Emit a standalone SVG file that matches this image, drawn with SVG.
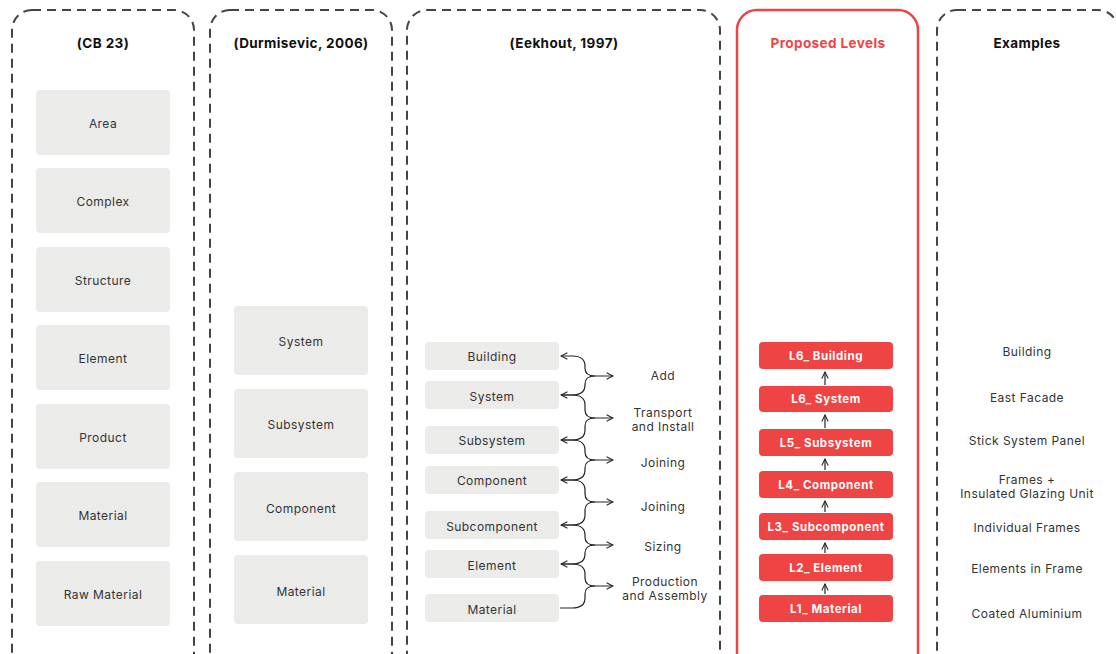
<svg xmlns="http://www.w3.org/2000/svg" width="1116" height="654" viewBox="0 0 1116 654">
<defs>
<style>
.col{fill:none;stroke:#444;stroke-width:2;stroke-dasharray:9 6}
.red{fill:none;stroke:#ef4444;stroke-width:2.5}
.box{fill:#ebebe9}
.rbox{fill:#ef4444}
text{font-family:Inter,"Noto Sans",sans-serif;text-anchor:middle;dominant-baseline:central}
.h{font-size:13.5px;font-weight:700;fill:#111;letter-spacing:0.4px}
.t{font-size:12px;fill:#333;letter-spacing:0.45px}
.w{font-size:11.5px;font-weight:700;fill:#fff;letter-spacing:0.55px}
.ln{fill:none;stroke:#222;stroke-width:1.2}
</style>
<marker id="ah" viewBox="0 0 10 10" refX="9" refY="5" markerWidth="8" markerHeight="8" markerUnits="userSpaceOnUse" orient="auto-start-reverse">
<path d="M1,1 L9,5 L1,9" fill="none" stroke="#222" stroke-width="1.3"/>
</marker>
</defs>
<rect width="1116" height="654" fill="#fff"/>

<g id="col-cb23">
<rect class="col" x="12" y="10" width="182" height="680" rx="20"/>
<text class="h" x="103" y="43">(CB 23)</text>
</g>
<g id="col-durmisevic">
<rect class="col" x="210" y="10" width="182" height="680" rx="20"/>
<text class="h" x="301" y="43">(Durmisevic, 2006)</text>
</g>
<g id="col-eekhout">
<rect class="col" x="407" y="10" width="313" height="680" rx="20"/>
<text class="h" x="564" y="43">(Eekhout, 1997)</text>
</g>
<g id="col-proposed">
<rect class="red" x="737" y="10" width="181" height="680" rx="20"/>
<text class="h" x="828" y="43" style="fill:#ef4444">Proposed Levels</text>
</g>
<g id="col-examples">
<rect class="col" x="937" y="10" width="181" height="680" rx="20"/>
<text class="h" x="1027" y="43">Examples</text>
</g>

<g id="cb-area"><rect class="box" x="36" y="90" width="134" height="65" rx="4"/><text class="t" x="103" y="123">Area</text></g>
<g id="cb-complex"><rect class="box" x="36" y="168" width="134" height="65" rx="4"/><text class="t" x="103" y="201">Complex</text></g>
<g id="cb-structure"><rect class="box" x="36" y="247" width="134" height="65" rx="4"/><text class="t" x="103" y="280">Structure</text></g>
<g id="cb-element"><rect class="box" x="36" y="325" width="134" height="65" rx="4"/><text class="t" x="103" y="358">Element</text></g>
<g id="cb-product"><rect class="box" x="36" y="404" width="134" height="65" rx="4"/><text class="t" x="103" y="437">Product</text></g>
<g id="cb-material"><rect class="box" x="36" y="482" width="134" height="65" rx="4"/><text class="t" x="103" y="515">Material</text></g>
<g id="cb-raw"><rect class="box" x="36" y="561" width="134" height="65" rx="4"/><text class="t" x="103" y="594">Raw Material</text></g>

<g id="du-system"><rect class="box" x="234" y="306" width="134" height="69" rx="4"/><text class="t" x="301" y="341">System</text></g>
<g id="du-subsystem"><rect class="box" x="234" y="389" width="134" height="69" rx="4"/><text class="t" x="301" y="424">Subsystem</text></g>
<g id="du-component"><rect class="box" x="234" y="472" width="134" height="69" rx="4"/><text class="t" x="301" y="508">Component</text></g>
<g id="du-material"><rect class="box" x="234" y="555" width="134" height="69" rx="4"/><text class="t" x="301" y="591">Material</text></g>

<g id="ek-building"><rect class="box" x="425" y="342" width="134" height="28" rx="4"/><text class="t" x="492" y="356">Building</text></g>
<g id="ek-system"><rect class="box" x="425" y="381" width="134" height="28" rx="4"/><text class="t" x="492" y="396">System</text></g>
<g id="ek-subsystem"><rect class="box" x="425" y="426" width="134" height="28" rx="4"/><text class="t" x="492" y="440">Subsystem</text></g>
<g id="ek-component"><rect class="box" x="425" y="466" width="134" height="28" rx="4"/><text class="t" x="492" y="480">Component</text></g>
<g id="ek-subcomponent"><rect class="box" x="425" y="511" width="134" height="28" rx="4"/><text class="t" x="492" y="526">Subcomponent</text></g>
<g id="ek-element"><rect class="box" x="425" y="550" width="134" height="28" rx="4"/><text class="t" x="492" y="565">Element</text></g>
<g id="ek-material"><rect class="box" x="425" y="594" width="134" height="28" rx="4"/><text class="t" x="492" y="609">Material</text></g>

<g id="ek-labels">
<text class="t" x="663" y="375">Add</text>
<text class="t" x="663" y="412">Transport</text>
<text class="t" x="663" y="426">and Install</text>
<text class="t" x="663" y="462">Joining</text>
<text class="t" x="663" y="506">Joining</text>
<text class="t" x="663" y="546">Sizing</text>
<text class="t" x="665" y="581">Production</text>
<text class="t" x="665" y="595">and Assembly</text>
</g>

<g id="pl-l6b"><rect class="rbox" x="759" y="342" width="134" height="27" rx="4"/><text class="w" x="826" y="356">L6_ Building</text></g>
<g id="pl-l6s"><rect class="rbox" x="759" y="386" width="134" height="26" rx="4"/><text class="w" x="826" y="399">L6_ System</text></g>
<g id="pl-l5"><rect class="rbox" x="759" y="429" width="134" height="27" rx="4"/><text class="w" x="826" y="443">L5_ Subsystem</text></g>
<g id="pl-l4"><rect class="rbox" x="759" y="471" width="134" height="27" rx="4"/><text class="w" x="826" y="485">L4_ Component</text></g>
<g id="pl-l3"><rect class="rbox" x="759" y="513" width="134" height="27" rx="4"/><text class="w" x="826" y="527">L3_ Subcomponent</text></g>
<g id="pl-l2"><rect class="rbox" x="759" y="554" width="134" height="27" rx="4"/><text class="w" x="826" y="568">L2_ Element</text></g>
<g id="pl-l1"><rect class="rbox" x="759" y="595" width="134" height="27" rx="4"/><text class="w" x="826" y="609">L1_ Material</text></g>

<g id="examples">
<text class="t" x="1027" y="351">Building</text>
<text class="t" x="1027" y="397">East Facade</text>
<text class="t" x="1027" y="440">Stick System Panel</text>
<text class="t" x="1027" y="479">Frames +</text>
<text class="t" x="1027" y="493">Insulated Glazing Unit</text>
<text class="t" x="1027" y="527">Individual Frames</text>
<text class="t" x="1027" y="568">Elements in Frame</text>
<text class="t" x="1027" y="613">Coated Aluminium</text>
</g>

<g id="connectors">
<path class="ln" marker-start="url(#ah)" d="M561,356 H572 Q585,356 585,366 V368 Q585,376 595,376 H613" marker-end="url(#ah)"/>
<path class="ln" marker-start="url(#ah)" d="M561,395 H572 Q585,395 585,385 V384 Q585,376 595,376"/>
<path class="ln" d="M561,395 H572 Q585,395 585,405 V410 Q585,418 595,418 H613" marker-end="url(#ah)"/>
<path class="ln" marker-start="url(#ah)" d="M561,440 H572 Q585,440 585,430 V426 Q585,418 595,418"/>
<path class="ln" d="M561,440 H572 Q585,440 585,450 V452 Q585,460 595,460 H613" marker-end="url(#ah)"/>
<path class="ln" marker-start="url(#ah)" d="M561,480 H572 Q585,480 585,470 V468 Q585,460 595,460"/>
<path class="ln" d="M561,480 H572 Q585,480 585,490 V494 Q585,502 595,502 H613" marker-end="url(#ah)"/>
<path class="ln" marker-start="url(#ah)" d="M561,525 H572 Q585,525 585,515 V510 Q585,502 595,502"/>
<path class="ln" d="M561,525 H572 Q585,525 585,535 V537 Q585,545 595,545 H613" marker-end="url(#ah)"/>
<path class="ln" marker-start="url(#ah)" d="M561,564 H572 Q585,564 585,554 V553 Q585,545 595,545"/>
<path class="ln" d="M561,564 H572 Q585,564 585,574 V578 Q585,586 595,586 H613" marker-end="url(#ah)"/>
<path class="ln" d="M560,608 H572 Q585,608 585,598 V594 Q585,586 595,586"/>
<path class="ln" d="M825,385 V372" marker-end="url(#ah)"/>
<path class="ln" d="M825,428 V415" marker-end="url(#ah)"/>
<path class="ln" d="M825,470 V459" marker-end="url(#ah)"/>
<path class="ln" d="M825,512 V501" marker-end="url(#ah)"/>
<path class="ln" d="M825,553 V543" marker-end="url(#ah)"/>
<path class="ln" d="M825,594 V584" marker-end="url(#ah)"/>
</g>
</svg>
